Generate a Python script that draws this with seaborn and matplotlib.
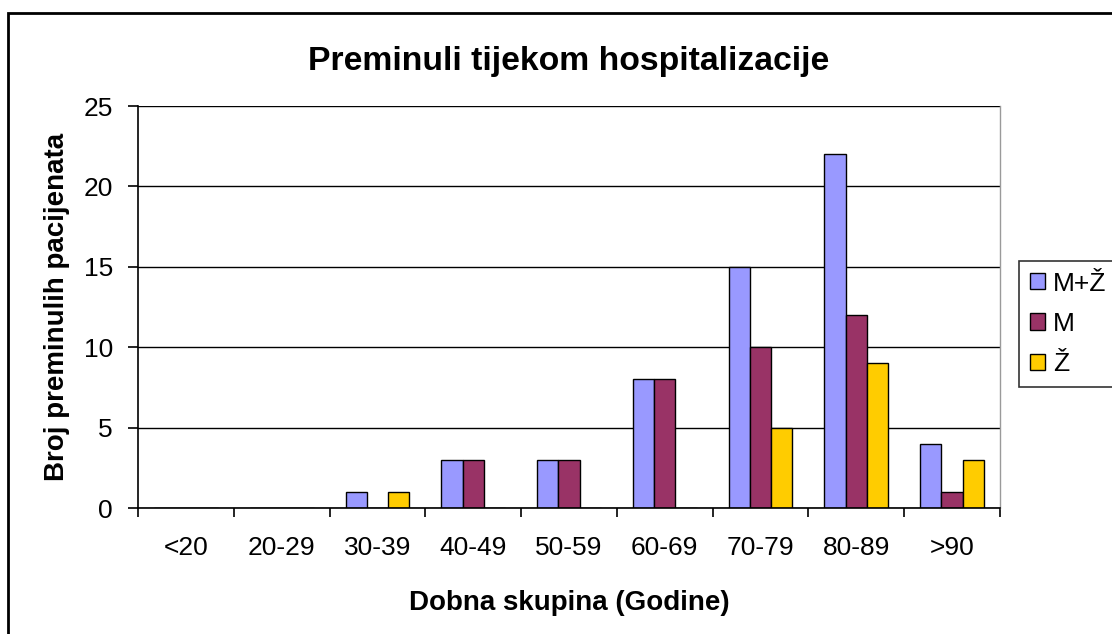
import matplotlib
matplotlib.use("Agg")
import matplotlib.pyplot as plt
import matplotlib.ticker as ticker
from matplotlib.patches import Rectangle
import pandas as pd
import seaborn as sns

# ─────────────────────────────────────────────
# PODACI
# ─────────────────────────────────────────────
SKUPINE = ["<20", "20-29", "30-39", "40-49", "50-59", "60-69", "70-79", "80-89", ">90"]
UKUPNO  = [0, 0, 1, 3, 3, 8, 15, 22, 4]
MUSKI   = [0, 0, 0, 3, 3, 8, 10, 12, 1]
ZENSKI  = [0, 0, 1, 0, 0, 0, 5, 9, 3]
SERIJE  = ["M+Ž", "M", "Ž"]
BOJE    = ["#9999FF", "#993366", "#FFCC00"]

df = pd.DataFrame({
    "skupina": SKUPINE * 3,
    "spol": [SERIJE[0]] * 9 + [SERIJE[1]] * 9 + [SERIJE[2]] * 9,
    "broj": UKUPNO + MUSKI + ZENSKI,
})

sns.set_theme(style="white")
plt.rcParams["font.family"] = ["Liberation Sans", "DejaVu Sans"]
plt.rcParams["text.color"] = "black"
plt.rcParams["axes.labelcolor"] = "black"
plt.rcParams["xtick.color"] = "black"
plt.rcParams["ytick.color"] = "black"

fig = plt.figure(figsize=(11.12, 6.34), dpi=100)
ax = fig.add_axes([138 / 1112, 1 - 508 / 634, 862 / 1112, 402 / 634])

sns.barplot(data=df, x="skupina", y="broj", hue="spol", order=SKUPINE,
            hue_order=SERIJE, palette=BOJE, width=2 / 3, gap=0,
            edgecolor="black", linewidth=1.0, saturation=1, ax=ax)

ax.set_ylim(0, 25)
ax.set_xlim(-0.5, len(SKUPINE) - 0.5)
ax.yaxis.set_major_locator(ticker.MultipleLocator(5))
ax.grid(axis="y", color="black", linewidth=1.0)
ax.set_axisbelow(True)
ax.spines["top"].set_visible(False)
ax.spines["right"].set_color("#9a9a9a")
ax.spines["right"].set_linewidth(1.0)
for s in ["left", "bottom"]:
    ax.spines[s].set_color("black")
    ax.spines[s].set_linewidth(1.2)

# kvačice na granicama kategorija
ax.set_xticks([i - 0.5 for i in range(len(SKUPINE) + 1)], minor=False)
ax.set_xticklabels([])
ax.set_xticks(range(len(SKUPINE)), minor=True)
ax.set_xticklabels(SKUPINE, minor=True, fontsize=19)
ax.tick_params(axis="x", which="major", direction="out", length=6.5, width=1.2,
               color="black", bottom=True)
ax.tick_params(axis="x", which="minor", length=0, pad=20)
ax.tick_params(axis="y", direction="out", length=7, width=1.2, color="black",
               left=True, labelsize=19, pad=11)

ax.set_title("Preminuli tijekom hospitalizacije", fontsize=24.3, fontweight="bold", pad=26)
ax.set_xlabel("Dobna skupina (Godine)", fontsize=20, fontweight="bold", labelpad=22)
ax.set_ylabel("Broj preminulih pacijenata", fontsize=20, fontweight="bold", labelpad=10)

leg = ax.legend(loc="center left", bbox_to_anchor=(1.022, 0.458), frameon=True,
                fontsize=19, handlelength=0.58, handleheight=0.58, handletextpad=0.3,
                labelspacing=0.62, borderpad=0.4, fancybox=False, borderaxespad=0)
leg.get_frame().set_edgecolor("black")
leg.get_frame().set_linewidth(1.2)

# okvir grafikona
fig.patches.append(Rectangle((8 / 1112, -0.1), 1.2, 1 - 13 / 634 + 0.1,
                             transform=fig.transFigure, fill=False,
                             edgecolor="black", linewidth=2.0, zorder=0))

fig.savefig("out.png", dpi=100)
